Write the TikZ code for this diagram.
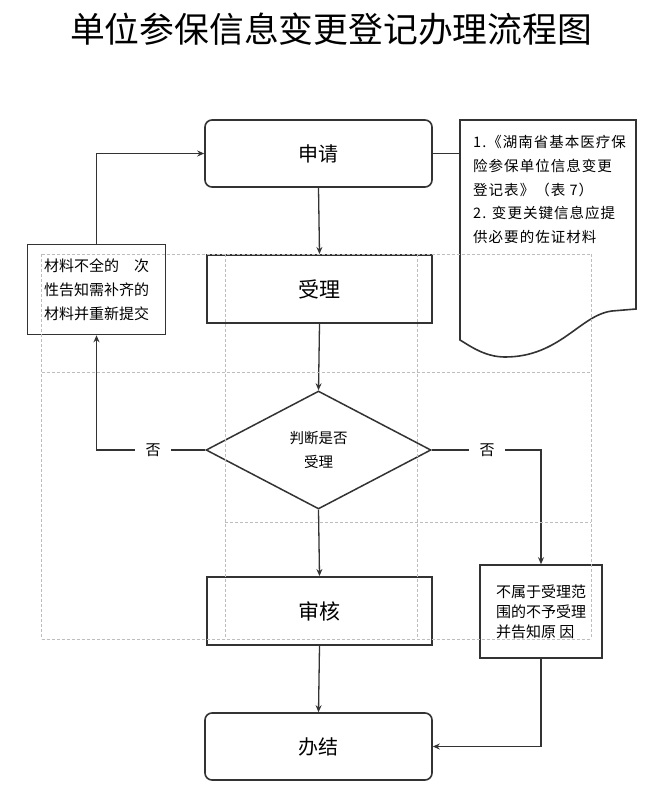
\documentclass[tikz,border=0pt]{standalone}
\usepackage{fontspec}
\newfontfamily\cjk{Noto Sans CJK SC}
\newfontfamily\cjknote[LetterSpace=7]{Noto Sans CJK SC}
\usetikzlibrary{shapes.geometric,arrows.meta}
\definecolor{ln}{HTML}{333333}
\definecolor{grid}{HTML}{BDBDBD}
\tikzset{
  roundbox/.style={draw=ln,line width=1.6pt,rounded corners=7pt,fill=white,minimum width=227pt,minimum height=67pt,inner sep=0pt,font=\cjk\fontsize{20}{24}\selectfont},
  sqbox/.style={draw=ln,line width=2pt,fill=white,minimum width=225pt,minimum height=68pt,inner sep=0pt,font=\cjk\fontsize{21}{24}\selectfont},
  sidebox/.style={draw=ln,line width=1.6pt,fill=white,inner sep=0pt,align=left},
  decide/.style={draw=ln,line width=1.5pt,shape=diamond,aspect=2,fill=white,minimum width=225pt,minimum height=118pt,inner sep=0pt,align=center,font=\cjk\fontsize{14.5}{24}\selectfont},
  conn/.style={draw=ln,line width=1.3pt,-{Stealth[length=7pt,width=6pt]}},
  sideconn/.style={draw=ln,line width=1.9pt,-{Stealth[length=7pt,width=6pt]}},
  plain/.style={draw=ln,line width=1.9pt},
  nolabel/.style={fill=white,inner sep=0pt,minimum width=36pt,minimum height=34pt,font=\cjk\fontsize{15}{18}\selectfont},
  gridline/.style={draw=grid,line width=0.6pt,dash pattern=on 3pt off 2pt},
  note/.style={draw=ln,line width=1.6pt,fill=white}
}
\begin{document}
\begin{tikzpicture}[x=1pt,y=-1pt]
\useasboundingbox[fill=white] (0,0) rectangle (666,791);

% title
\node[font=\cjk\fontsize{34.8}{40}\selectfont,inner sep=0pt] (title) at (331,29) {单位参保信息变更登记办理流程图};

% document note shape
\path[note] (460,120) -- (636,120) -- (636,309) -- (612,311)
  .. controls (580,315) and (560,357) .. (505,357)
  .. controls (485,357) and (470,346) .. (460,340) -- cycle;
\coordinate (noteL) at (460,153.5);
\node[anchor=north west,inner sep=0pt,align=left,font=\cjknote\fontsize{14.5}{23.8}\selectfont] (notetext) at (473,135)
  {1.《湖南省基本医疗保\\险参保单位信息变更\\登记表》（表 7）\\2. 变更关键信息应提\\供必要的佐证材料};

% main nodes
\node[roundbox] (sq) at (318.5,153.5) {申请};
\node[sqbox] (sl) at (319.5,289) {受理};
\node[decide] (pd) at (318.5,450) {判断是否\\受理};
\node[sqbox] (sh) at (319.5,611) {审核};
\node[roundbox] (bj) at (318.5,746.5) {办结};

\node[sidebox,minimum width=138pt,minimum height=90pt,font=\cjk\fontsize{15}{24}\selectfont] (lb) at (96.5,289.5)
  {材料不全的\hspace{1em}次\\性告知需补齐的\\材料并重新提交};
\node[sidebox,minimum width=122pt,minimum height=93pt,font=\cjk\fontsize{15}{20}\selectfont] (rb) at (541,611.5)
  {不属于受理范\\围的不予受理\\并告知原 因};

% connectors
\draw[conn] (sq.south) -- (sl.north);
\draw[conn] (sl.south) -- (pd.north);
\draw[conn] (pd.south) -- (sh.north);
\draw[conn] (sh.south) -- (bj.north);
\draw[plain] (sq.east) -- (noteL);

\draw[sideconn] (pd.west) -| (lb.south);
\draw[sideconn] (lb.north) |- (sq.west);
\draw[sideconn] (pd.east) -| (rb.north);
\draw[sideconn] (rb.south) |- (bj.east);

\node[nolabel] (no1) at (153,450) {否};
\node[nolabel] (no2) at (487,450) {否};

% gray dashed guide grid
\draw[gridline] (41.5,254) -- (591,254);
\draw[gridline] (41.5,372) -- (591,372);
\draw[gridline] (225,522) -- (591,522);
\draw[gridline] (41.5,639) -- (591,639);
\draw[gridline] (41.5,254) -- (41.5,639);
\draw[gridline] (225,254) -- (225,639);
\draw[gridline] (417,254) -- (417,639);
\draw[gridline] (591,254) -- (591,639);
\end{tikzpicture}
\end{document}
